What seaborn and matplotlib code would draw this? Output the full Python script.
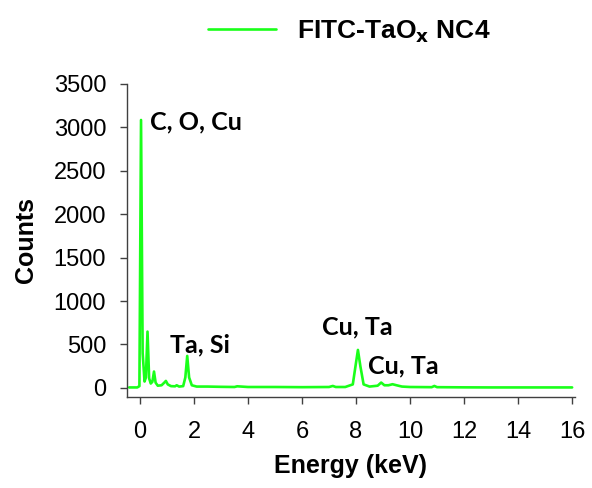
import numpy as np
import pandas as pd
import matplotlib
matplotlib.use("Agg")
import matplotlib.pyplot as plt
import seaborn as sns

# EDS spectrum
energy = [-0.40, -0.10, -0.02, 0.04, 0.10, 0.17, 0.22, 0.28, 0.34, 0.40,
          0.46, 0.52, 0.58, 0.66, 0.80, 0.90, 0.96, 1.03, 1.15, 1.30,
          1.36, 1.45, 1.60, 1.68, 1.75, 1.82, 1.92, 2.10, 2.50, 3.00,
          3.50, 3.60, 4.00, 5.00, 6.00, 7.00, 7.14, 7.25, 7.60, 7.88,
          7.98, 8.07, 8.16, 8.28, 8.50, 8.80, 8.93, 9.05, 9.20, 9.35,
          9.50, 9.70, 10.00, 10.80, 10.90, 11.00, 12.00, 13.00, 14.00,
          15.00, 16.00]
counts = [5, 5, 20, 3085, 400, 73, 120, 648, 110, 50,
          70, 188, 60, 25, 30, 60, 80, 40, 20, 18,
          30, 15, 20, 120, 368, 120, 30, 15, 15, 12,
          10, 18, 10, 10, 8, 10, 22, 10, 10, 40,
          250, 437, 250, 40, 15, 25, 61, 30, 30, 42,
          30, 15, 10, 8, 22, 8, 6, 5, 5, 5, 5]

series_name = "FITC-TaO$_\\mathbf{x}$ NC4"
peak_labels = ["C, O, Cu", "Ta, Si", "Cu, Ta", "Cu, Ta"]
peak_label_pos = [(0.37, 3060), (1.11, 495), (6.73, 700), (8.46, 253)]

df = pd.DataFrame({"Energy": energy, "Counts": counts})

sns.set_style("ticks")
plt.rcParams["font.family"] = ["Liberation Sans", "DejaVu Sans"]
plt.rcParams["text.color"] = "black"
plt.rcParams["axes.labelcolor"] = "black"
plt.rcParams["xtick.color"] = "black"
plt.rcParams["ytick.color"] = "black"

fig = plt.figure(figsize=(5.92, 4.88), dpi=100)
ax = fig.add_axes([0.2145, 0.1865, 0.7565, 0.6415])

sns.lineplot(data=df, x="Energy", y="Counts", ax=ax, color="#1aff1a",
             linewidth=1.9, label=series_name, legend=False)

# peak annotations
for txt, (px, py) in zip(peak_labels, peak_label_pos):
    ax.text(px, py, txt, fontsize=18, fontweight="bold", color="black",
            family=["Lato", "DejaVu Sans"], ha="left", va="center")

ax.set_xlim(-0.48, 16.1)
ax.set_ylim(-105, 3500)
ax.set_xticks(range(0, 17, 2))
ax.set_yticks(range(0, 3501, 500))
ax.tick_params(labelsize=17, direction="out", length=5, width=1,
               color="#404040", labelcolor="black")
ax.tick_params(axis="x", pad=12)
ax.tick_params(axis="y", pad=10)
for sp in ["top", "right"]:
    ax.spines[sp].set_visible(False)
for sp in ["left", "bottom"]:
    ax.spines[sp].set_color("#404040")
    ax.spines[sp].set_linewidth(1)

ax.set_xlabel("Energy (keV)", fontsize=18, fontweight="bold", labelpad=8)
ax.set_ylabel("Counts", fontsize=18, fontweight="bold", labelpad=11)

fig.legend(handles=ax.get_lines()[:1], labels=[series_name],
           loc="center", bbox_to_anchor=(0.59, 0.935), frameon=False,
           prop={"size": 19, "weight": "bold"}, handlelength=2.6,
           handletextpad=0.8)

fig.savefig("out.png", dpi=100)
